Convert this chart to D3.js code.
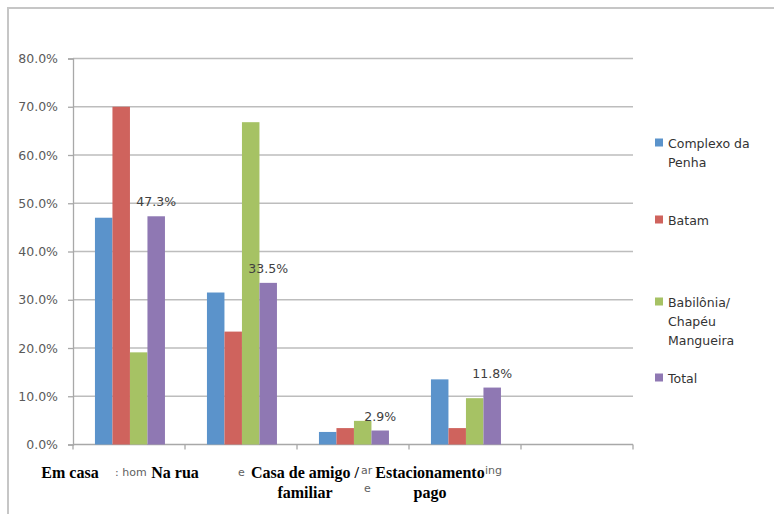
<!DOCTYPE html>
<html>
<head>
<meta charset="utf-8">
<script src="https://cdn.jsdelivr.net/npm/d3@7"></script>
<style>
  html, body { margin: 0; padding: 0; background: #fff; }
  svg { display: block; }
</style>
</head>
<body>
<svg id="chart" width="774" height="514"></svg>
<script>
// Where people park: share of answers per community (%)
const categories = ["Em casa", "Na rua", "Casa de amigo / familiar", "Estacionamento pago", ""];
const categoryLines = [["Em casa"], ["Na rua"], ["Casa de amigo /", "familiar"], ["Estacionamento", "pago"], []];
const seriesNames = ["Complexo da Penha", "Batam", "Babilônia/ Chapéu Mangueira", "Total"];
const legendLines = [["Complexo da", "Penha"], ["Batam"], ["Babilônia/", "Chapéu", "Mangueira"], ["Total"]];
const complexoDaPenha = [47.0, 31.5, 2.6, 13.5, null];
const batam = [70.0, 23.4, 3.4, 3.4, null];
const babilonia = [19.1, 66.8, 4.9, 9.6, null];
const total = [47.3, 33.5, 2.9, 11.8, null];
const yTicks = [0, 10, 20, 30, 40, 50, 60, 70, 80];
// remnants of the older axis captions still peeking out from under the new ones
const oldCaptionBits = [": hom", "e", "ar", "e", "ing"];

const colors = ["#5b93cb", "#cf635d", "#a6c264", "#8f78b3"];
const seriesValues = [complexoDaPenha, batam, babilonia, total];

const svg = d3.select("#chart");
const sans = "'DejaVu Sans', sans-serif";

// outer frame (top and left edges visible)
svg.append("path")
  .attr("d", "M8,514 L8,8 L774,8")
  .attr("fill", "none").attr("stroke", "#c6c6c6").attr("stroke-width", 2);

const plot = { left: 73, right: 633, top: 58.5, bottom: 444.5 };

const x = d3.scaleBand().domain(d3.range(categories.length))
  .range([plot.left, plot.right]).padding(0);
const bw = x.bandwidth();
const xs = d3.scaleBand().domain(d3.range(seriesNames.length))
  .range([bw * 0.196, bw * 0.821]).padding(0);
const y = d3.scaleLinear().domain([0, 80]).range([plot.bottom, plot.top]);

// horizontal gridlines
svg.append("g").selectAll("line").data(yTicks.filter(t => t > 0)).join("line")
  .attr("x1", plot.left).attr("x2", plot.right)
  .attr("y1", d => y(d)).attr("y2", d => y(d))
  .attr("stroke", "#bdbdbd").attr("stroke-width", 1.3);

// y axis
const yAxis = svg.append("g").attr("transform", `translate(${plot.left},0)`)
  .call(d3.axisLeft(y).tickValues(yTicks).tickSize(5).tickPadding(10)
    .tickFormat(d => d3.format(".1f")(d) + "%"));
yAxis.select(".domain").attr("stroke", "#a8a8a8").attr("stroke-width", 1.3);
yAxis.selectAll(".tick line").attr("stroke", "#a8a8a8").attr("stroke-width", 1.3);
yAxis.selectAll("text").attr("font-family", sans).attr("font-size", 12.5).attr("fill", "#5a5a5a");

// x axis baseline with boundary ticks
const boundaries = d3.range(categories.length + 1).map(i => plot.left + i * bw);
svg.append("line").attr("x1", plot.left).attr("x2", plot.right)
  .attr("y1", plot.bottom).attr("y2", plot.bottom)
  .attr("stroke", "#a8a8a8").attr("stroke-width", 1.3);
svg.append("g").selectAll("line").data(boundaries).join("line")
  .attr("x1", d => d).attr("x2", d => d)
  .attr("y1", plot.bottom).attr("y2", plot.bottom + 5)
  .attr("stroke", "#a8a8a8").attr("stroke-width", 1.3);

// bars
const groups = svg.append("g").selectAll("g").data(d3.range(categories.length)).join("g")
  .attr("transform", i => `translate(${x(i)},0)`);
groups.selectAll("rect")
  .data(i => seriesValues.map((vals, s) => ({ s, v: vals[i] })).filter(d => d.v != null))
  .join("rect")
  .attr("x", d => xs(d.s))
  .attr("width", xs.bandwidth())
  .attr("y", d => y(d.v))
  .attr("height", d => y(0) - y(d.v))
  .attr("fill", d => colors[d.s]);

// value labels on the Total series
groups.selectAll("text.val")
  .data(i => total[i] == null ? [] : [total[i]])
  .join("text").attr("class", "val")
  .attr("x", xs(3) + xs.bandwidth() / 2)
  .attr("y", d => y(d) - 10)
  .attr("text-anchor", "middle")
  .attr("font-family", sans).attr("font-size", 12.5).attr("fill", "#404040")
  .text(d => d3.format(".1f")(d) + "%");

// old caption fragments (grey, partly hidden)
const bitPos = [[115, 475.5], [238, 475.5], [361, 473.5], [364, 492], [485, 473.5]];
svg.append("g").selectAll("text").data(oldCaptionBits).join("text")
  .attr("x", (d, i) => bitPos[i][0]).attr("y", (d, i) => bitPos[i][1])
  .attr("font-family", sans).attr("font-size", 11).attr("fill", "#606060")
  .text(d => d);

// category captions (bold serif), nudged left of each column centre
const captionOffset = [-59, -66, -48, -35];
const captionG = svg.append("g");
categoryLines.forEach((lines, i) => {
  if (!lines.length) return;
  const cx = x(i) + bw / 2 + captionOffset[i];
  lines.forEach((line, k) => {
    captionG.append("text")
      .attr("x", cx).attr("y", 478 + k * 20)
      .attr("text-anchor", "middle")
      .attr("font-family", "'Liberation Serif', 'Times New Roman', serif")
      .attr("font-weight", "bold").attr("font-size", 16).attr("fill", "#000")
      .text(line);
  });
});

// legend
const legendTop = [143, 220, 302, 378];
const legend = svg.append("g");
legendLines.forEach((lines, s) => {
  legend.append("rect")
    .attr("x", 655).attr("y", legendTop[s] - 4.5)
    .attr("width", 8).attr("height", 8)
    .attr("fill", colors[s]);
  lines.forEach((line, k) => {
    legend.append("text")
      .attr("x", 668).attr("y", legendTop[s] + 4.5 + k * 19)
      .attr("font-family", sans).attr("font-size", 12.5).attr("fill", "#333")
      .text(line);
  });
});
</script>
</body>
</html>
